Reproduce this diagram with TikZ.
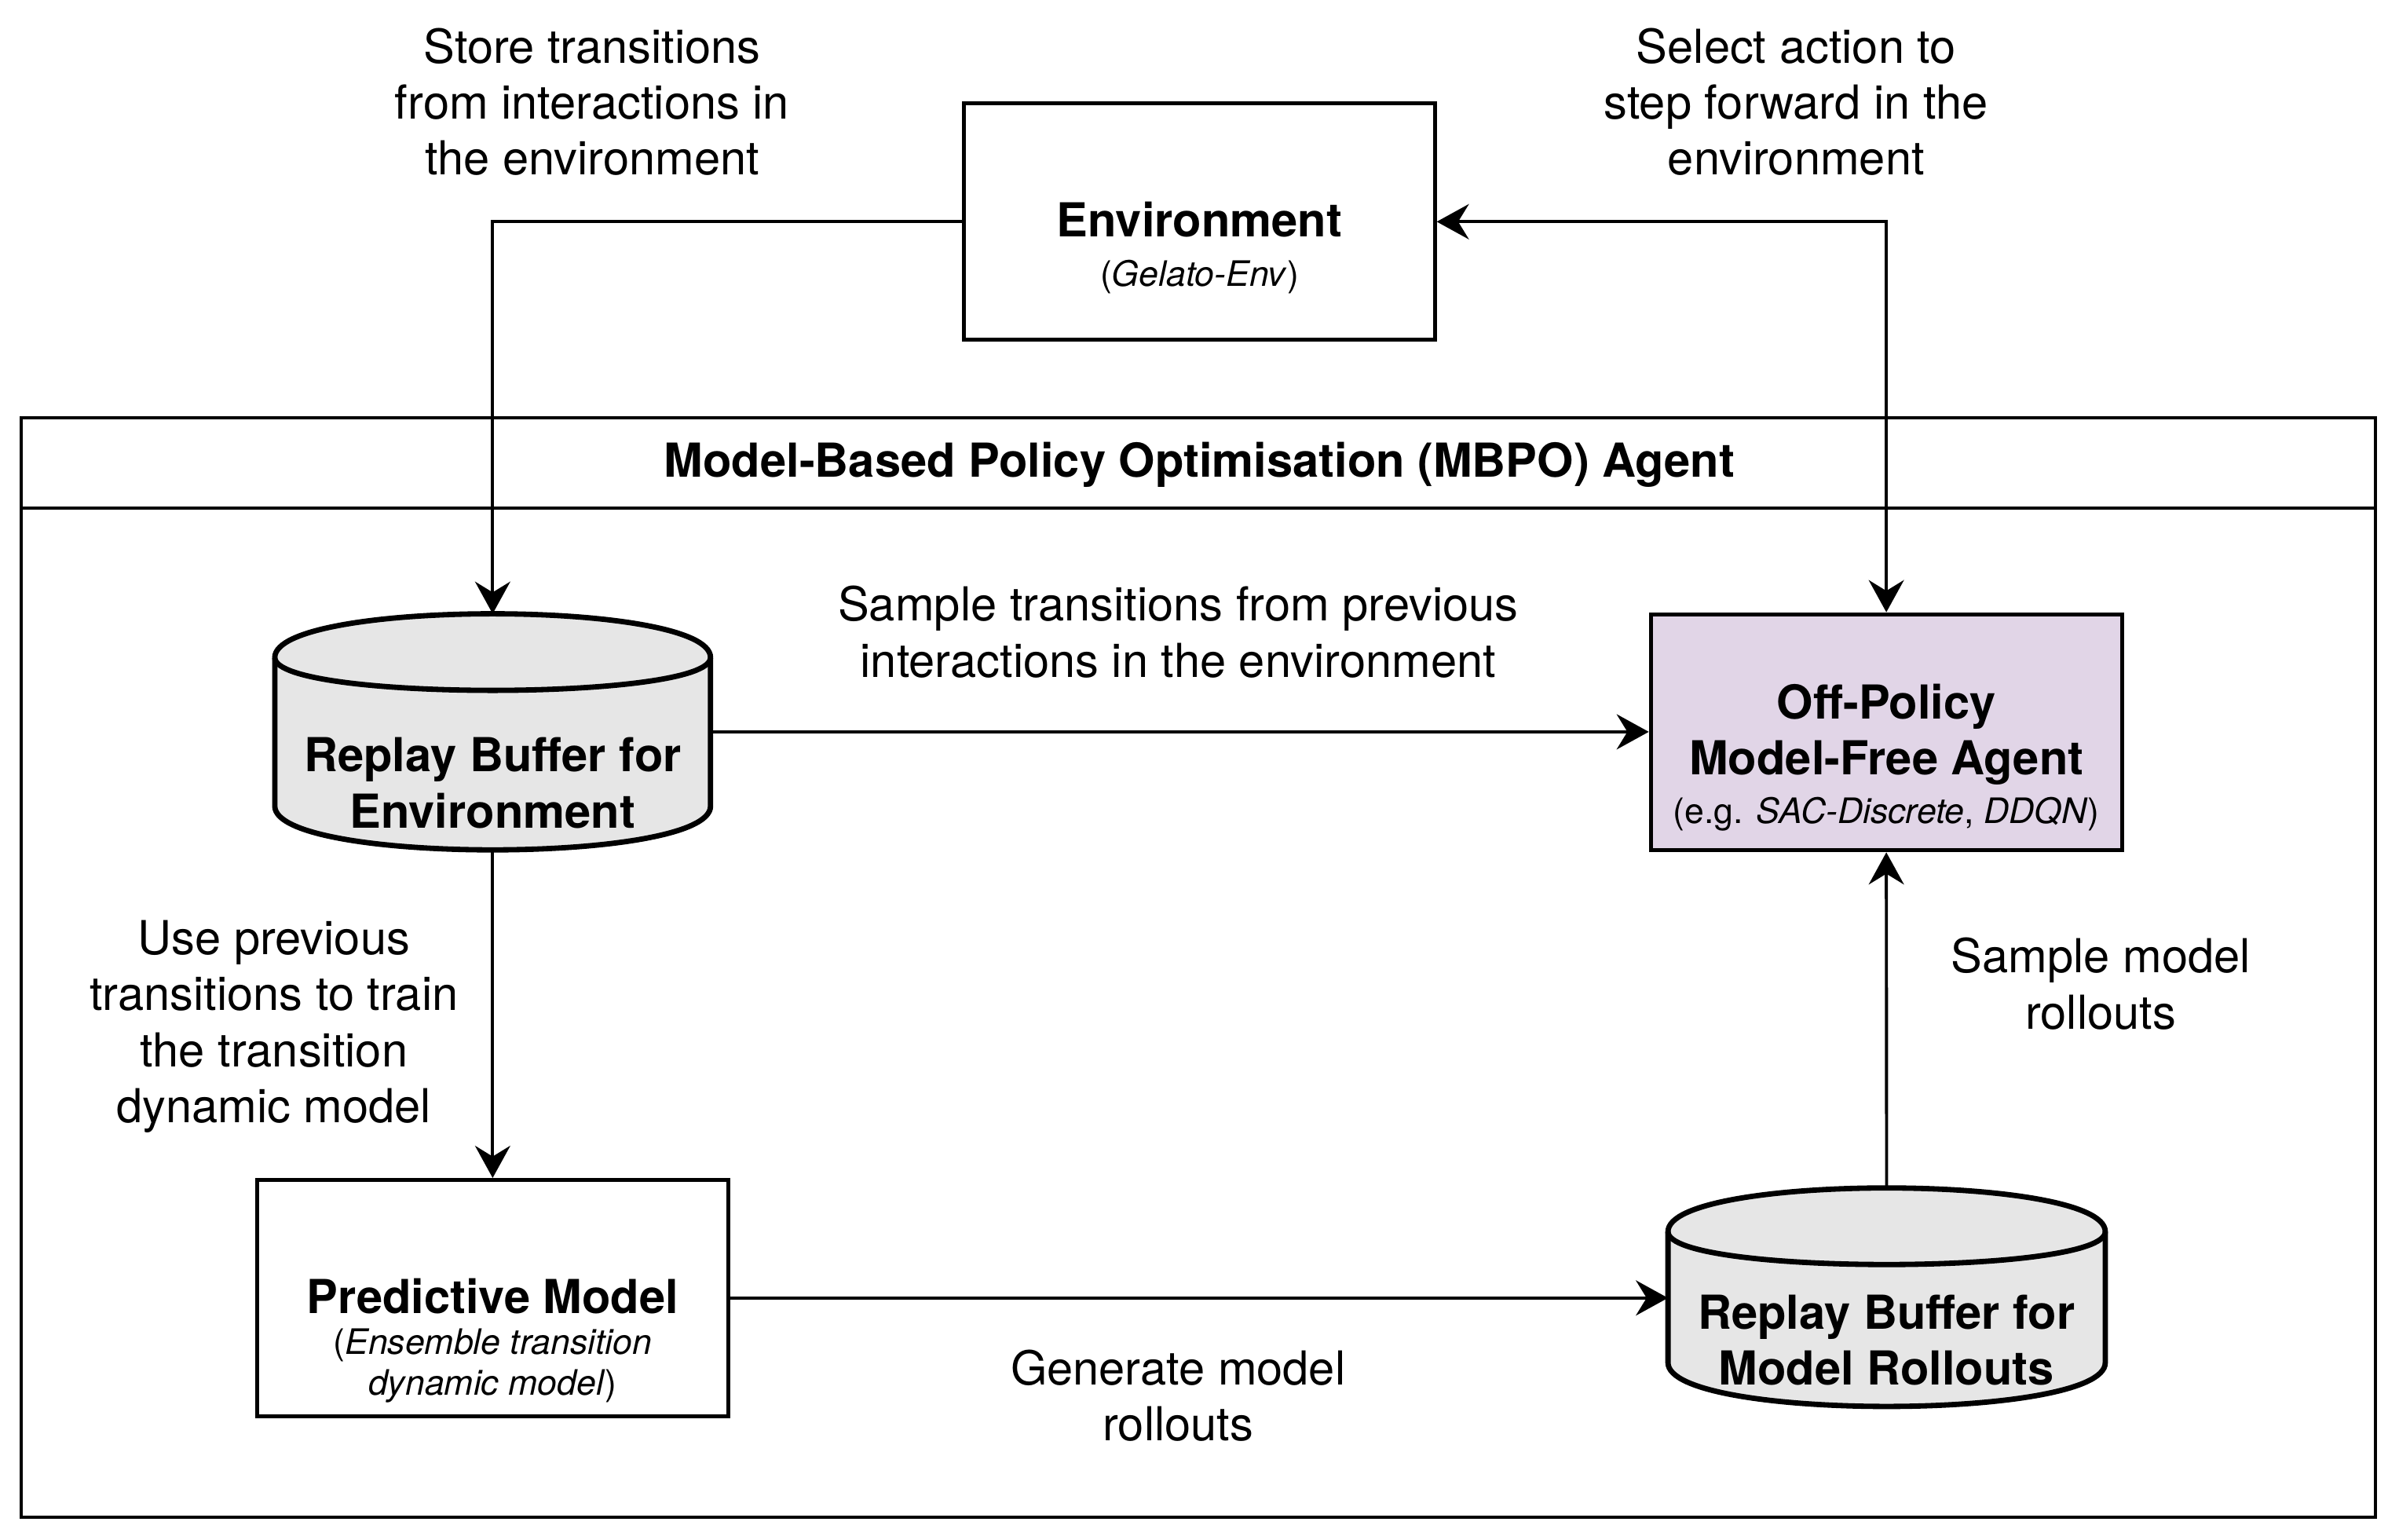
\documentclass[tikz,border=0pt]{standalone}
\usepackage{fontspec}
\setmainfont{TeX Gyre Heros}
\usetikzlibrary{arrows.meta,calc}
\definecolor{agentfill}{HTML}{E1D5E7}
\definecolor{cylfill}{HTML}{E6E6E6}
\newcommand\mycyl[2]{%
  \draw[cylline] ($(#1.north west)+(0pt,-#2)$) .. controls ($(#1.north west)+(0pt,#2/3)$) and ($(#1.north east)+(0pt,#2/3)$) .. ($(#1.north east)+(0pt,-#2)$) -- ($(#1.south east)+(0pt,#2)$) .. controls ($(#1.south east)+(0pt,-#2/3)$) and ($(#1.south west)+(0pt,-#2/3)$) .. ($(#1.south west)+(0pt,#2)$) -- cycle;
  \draw[cylline,fill=none] ($(#1.north west)+(0pt,-#2)$) .. controls ($(#1.north west)+(0pt,-2*#2)$) and ($(#1.north east)+(0pt,-2*#2)$) .. ($(#1.north east)+(0pt,-#2)$);}
\begin{document}
\begin{tikzpicture}[x=0.5pt,y=-0.5pt,
  box/.style={draw, line width=1.25pt, inner sep=0, minimum width=154pt, minimum height=77.2pt},
  cylnode/.style={inner sep=0, minimum width=142pt},
  cylline/.style={draw, line width=1.75pt, fill=cylfill, line join=round},
  conn/.style={line width=1pt, -{Stealth[length=10.5pt,width=11.5pt,inset=3.5pt]}},
  conn2/.style={line width=1pt, {Stealth[length=10.5pt,width=11.5pt,inset=3.5pt]}-{Stealth[length=10.5pt,width=11.5pt,inset=3.5pt]}},
  lbl/.style={font=\fontsize{15.3}{18.3}\selectfont, align=center, inner sep=0},
  blbl/.style={font=\fontsize{15.3}{18.3}\selectfont\bfseries, align=center, inner sep=0},
  slbl/.style={font=\fontsize{11.45}{13.25}\selectfont, align=center, inner sep=0}]
\useasboundingbox (0,0) rectangle (1568,1006);
% container
\draw[line width=1pt] (14,272.9) rectangle (1552.6,991.7);
\draw[line width=1pt] (14,332) -- (1552.6,332);
\node[blbl] (title) at (784,304) {Model-Based Policy Optimisation (MBPO) Agent};
% boxes
\node[box] (env) at (783.8,144.9) {};
\node[box, fill=agentfill] (agent) at (1232.9,478.6) {};
\node[box] (pred) at (322,848.3) {};
\node[cylnode, minimum height=76.75pt] (cylA) at (322,478.3) {};
\node[cylnode, minimum width=142.5pt, minimum height=71pt] (cylB) at (1233.1,847.8) {};
\mycyl{cylA}{14.3pt}
\mycyl{cylB}{14.3pt}
% texts in boxes
\node[blbl] (envT) at (784,143.5) {Environment};
\node[slbl] (envS) at (784,181) {(\textit{Gelato-Env})};
\node[blbl] (agentT) at (1233,480) {Off-Policy\\Model-Free Agent};
\node[slbl] (agentS) at (1233,532) {(e.g. \textit{SAC-Discrete}, \textit{DDQN})};
\node[blbl] (predT) at (322,847) {Predictive Model};
\node[slbl] (predS) at (322,892.5) {(\textit{Ensemble transition}\\\textit{dynamic model})};
\node[blbl] (cylAT) at (322,511.8) {Replay Buffer for\\Environment};
\node[blbl] (cylBT) at (1233,876) {Replay Buffer for\\Model Rollouts};
% connectors
\draw[conn] (env.west) -| (cylA.north);
\draw[conn2] (env.east) -| (agent.north);
\draw[conn] (cylA.east) -- (cylA.east -| agent.west);
\draw[conn] (cylA.south) -- (pred.north);
\draw[conn] (pred.east) -- (pred.east -| cylB.west);
\draw[conn] (cylB.north) -- (agent.south);
% edge labels
\node[lbl] (storeL) at (387,66.5) {Store transitions\\from interactions in\\the environment};
\node[lbl] (selectL) at (1174,66.5) {Select action to\\step forward in the\\environment};
\node[lbl] (sampleL) at (770,413) {Sample transitions from previous\\interactions in the environment};
\node[lbl] (useL) at (179,671) {Use previous\\transitions to train\\the transition\\dynamic model};
\node[lbl] (smrL) at (1373,643) {Sample model\\rollouts};
\node[lbl] (genL) at (770,912) {Generate model\\rollouts};
\end{tikzpicture}
\end{document}
